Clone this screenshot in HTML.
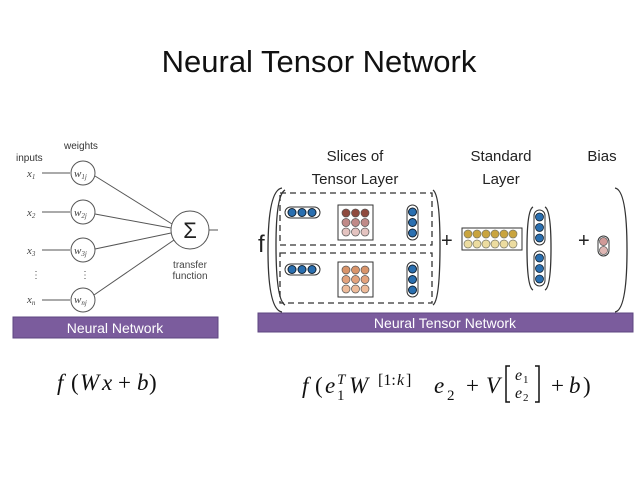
<!DOCTYPE html>
<html><head><style>
body{margin:0;background:#fff;width:638px;height:479px;overflow:hidden;font-family:"Liberation Sans",sans-serif}
</style></head><body>
<svg width="638" height="479" xmlns="http://www.w3.org/2000/svg" font-family="Liberation Sans, sans-serif">
<text x="319" y="72" font-size="31" text-anchor="middle" fill="#111">Neural Tensor Network</text>

<!-- left diagram -->
<text x="16" y="161" font-size="10" fill="#333">inputs</text>
<text x="64" y="149" font-size="10" fill="#333">weights</text>
<g font-family="Liberation Serif, serif" font-style="italic" font-size="11" fill="#444">
<text x="27" y="177">x<tspan font-size="7" dy="2">1</tspan></text>
<text x="27" y="216">x<tspan font-size="7" dy="2">2</tspan></text>
<text x="27" y="254">x<tspan font-size="7" dy="2">3</tspan></text>
<text x="27" y="303">x<tspan font-size="7" dy="2">n</tspan></text>
<text x="74" y="177">w<tspan font-size="7" dy="2">1j</tspan></text>
<text x="74" y="216">w<tspan font-size="7" dy="2">2j</tspan></text>
<text x="74" y="254">w<tspan font-size="7" dy="2">3j</tspan></text>
<text x="74" y="303">w<tspan font-size="7" dy="2">nj</tspan></text>
</g>
<g stroke="#555" fill="none" stroke-width="1">
<circle cx="83" cy="173" r="12"/><circle cx="83" cy="212" r="12"/><circle cx="83" cy="250" r="12"/><circle cx="83" cy="300" r="12"/>
<circle cx="190" cy="230" r="19"/>
<line x1="42" y1="173" x2="70" y2="173"/><line x1="42" y1="212" x2="70" y2="212"/><line x1="42" y1="250" x2="70" y2="250"/><line x1="42" y1="300" x2="70" y2="300"/>
<line x1="95" y1="176" x2="172" y2="224"/><line x1="95" y1="214" x2="171" y2="228"/><line x1="95" y1="249" x2="171" y2="233"/><line x1="94" y1="295" x2="174" y2="240"/>
<line x1="209" y1="230" x2="218" y2="230"/>
</g>
<g fill="#555" font-size="10"><text x="31" y="278">⋮</text><text x="80" y="278">⋮</text></g>
<text x="190" y="238" font-size="22" text-anchor="middle" fill="#222">Σ</text>
<text x="190" y="268" font-size="10" text-anchor="middle" fill="#444">transfer</text>
<text x="190" y="279" font-size="10" text-anchor="middle" fill="#444">function</text>
<rect x="13" y="317" width="205" height="21" fill="#7b5c9d" stroke="#5e4680"/>
<text x="115" y="333" font-size="14" text-anchor="middle" fill="#fff">Neural Network</text>

<!-- right diagram -->
<g font-size="15" fill="#222" text-anchor="middle">
<text x="355" y="161">Slices of</text><text x="355" y="184">Tensor Layer</text>
<text x="501" y="161">Standard</text><text x="501" y="184">Layer</text>
<text x="602" y="161">Bias</text>
</g>
<text x="258" y="252" font-size="24" fill="#222">f</text>
<g fill="none" stroke="#333" stroke-width="1.3">
<path d="M282 188 Q268 190 268 250 Q268 310 282 312"/>
<path d="M615 188 Q627 190 627 250 Q627 310 615 312"/>
<path d="M433 190 Q440 195 440 245 Q440 300 433 305"/>
<path d="M285 190 Q276 195 276 245 Q276 300 285 305"/>
<rect x="280" y="193" width="152" height="52" stroke-dasharray="6,4"/>
<rect x="280" y="253" width="152" height="50" stroke-dasharray="6,4"/>
<path d="M533 207 Q527 210 527 248 Q527 287 533 290"/>
<path d="M545 207 Q551 210 551 248 Q551 287 545 290"/>
</g>
<g font-size="20" fill="#222"><text x="441" y="247">+</text><text x="578" y="247">+</text></g>

<g id="slice">
<rect x="285" y="207" width="35" height="11" rx="5.5" fill="#fff" stroke="#333"/>
<circle cx="292" cy="212.5" r="4" fill="#2a6fb0" stroke="#123"/><circle cx="302" cy="212.5" r="4" fill="#2a6fb0" stroke="#123"/><circle cx="312" cy="212.5" r="4" fill="#2a6fb0" stroke="#123"/>
<rect x="407" y="205" width="11" height="35" rx="5.5" fill="#fff" stroke="#333"/>
<circle cx="412.5" cy="212" r="4" fill="#2a6fb0" stroke="#123"/><circle cx="412.5" cy="222.5" r="4" fill="#2a6fb0" stroke="#123"/><circle cx="412.5" cy="233" r="4" fill="#2a6fb0" stroke="#123"/>
<rect x="338" y="205" width="35" height="35" fill="#fff" stroke="#333"/>
</g>
<use href="#slice" transform="translate(0,57)"/>
<g stroke="#555" stroke-width="0.7">
<circle cx="346" cy="213" r="4" fill="#8e4a3e"/><circle cx="355.5" cy="213" r="4" fill="#8e4a3e"/><circle cx="365" cy="213" r="4" fill="#8e4a3e"/>
<circle cx="346" cy="222.5" r="4" fill="#c08a88"/><circle cx="355.5" cy="222.5" r="4" fill="#c08a88"/><circle cx="365" cy="222.5" r="4" fill="#c08a88"/>
<circle cx="346" cy="232" r="4" fill="#e4c3c0"/><circle cx="355.5" cy="232" r="4" fill="#e4c3c0"/><circle cx="365" cy="232" r="4" fill="#e4c3c0"/>
<circle cx="346" cy="270" r="4" fill="#d9946a"/><circle cx="355.5" cy="270" r="4" fill="#d9946a"/><circle cx="365" cy="270" r="4" fill="#d9946a"/>
<circle cx="346" cy="279.5" r="4" fill="#e3a27c"/><circle cx="355.5" cy="279.5" r="4" fill="#e3a27c"/><circle cx="365" cy="279.5" r="4" fill="#e3a27c"/>
<circle cx="346" cy="289" r="4" fill="#eebb9a"/><circle cx="355.5" cy="289" r="4" fill="#eebb9a"/><circle cx="365" cy="289" r="4" fill="#eebb9a"/>
</g>
<rect x="462" y="228" width="60" height="22" fill="#fff" stroke="#333"/>
<g stroke="#776" stroke-width="0.7">
<circle cx="468" cy="234" r="4" fill="#c9a43e"/><circle cx="477" cy="234" r="4" fill="#c9a43e"/><circle cx="486" cy="234" r="4" fill="#c9a43e"/><circle cx="495" cy="234" r="4" fill="#c9a43e"/><circle cx="504" cy="234" r="4" fill="#c9a43e"/><circle cx="513" cy="234" r="4" fill="#c9a43e"/>
<circle cx="468" cy="244" r="4" fill="#ecdca0"/><circle cx="477" cy="244" r="4" fill="#ecdca0"/><circle cx="486" cy="244" r="4" fill="#ecdca0"/><circle cx="495" cy="244" r="4" fill="#ecdca0"/><circle cx="504" cy="244" r="4" fill="#ecdca0"/><circle cx="513" cy="244" r="4" fill="#ecdca0"/>
</g>
<g stroke="#333">
<rect x="534" y="210" width="11" height="35" rx="5.5" fill="#fff"/>
<rect x="534" y="251" width="11" height="35" rx="5.5" fill="#fff"/>
<rect x="598" y="236" width="11" height="20" rx="5.5" fill="#fff"/>
</g>
<g fill="#2a6fb0" stroke="#123" stroke-width="0.8">
<circle cx="539.5" cy="217" r="4"/><circle cx="539.5" cy="227.5" r="4"/><circle cx="539.5" cy="238" r="4"/>
<circle cx="539.5" cy="258" r="4"/><circle cx="539.5" cy="268.5" r="4"/><circle cx="539.5" cy="279" r="4"/>
</g>
<circle cx="603.5" cy="241.5" r="4" fill="#d09a98" stroke="#555" stroke-width="0.7"/>
<circle cx="603.5" cy="250.5" r="4" fill="#e0b7b4" stroke="#555" stroke-width="0.7"/>
<rect x="258" y="313" width="375" height="19" fill="#7b5c9d" stroke="#5e4680"/>
<text x="445" y="328" font-size="14" text-anchor="middle" fill="#fff">Neural Tensor Network</text>

<!-- formulas -->
<g font-family="Liberation Serif, serif" font-size="23" fill="#111">
<text x="57" y="390" font-style="italic">f</text>
<text x="71" y="390">(</text>
<text x="80" y="390" font-style="italic">W</text>
<text x="102" y="390" font-style="italic">x</text>
<text x="118" y="390">+</text>
<text x="137" y="390" font-style="italic">b</text>
<text x="149" y="390">)</text>

<text x="302" y="393" font-style="italic">f</text>
<text x="315" y="393">(</text>
<text x="325" y="393" font-style="italic">e</text>
<text x="337" y="400" font-size="15">1</text>
<text x="337" y="384" font-size="15" font-style="italic">T</text>
<text x="349" y="393" font-style="italic">W</text>
<text x="378" y="385" font-size="16">[1:</text><text x="397" y="385" font-size="16" font-style="italic">k</text><text x="406" y="385" font-size="16">]</text>
<text x="434" y="393" font-style="italic">e</text>
<text x="447" y="400" font-size="15">2</text>
<text x="466" y="393">+</text>
<text x="486" y="393" font-style="italic">V</text>
<text x="515" y="380" font-size="16" font-style="italic">e</text><text x="523" y="383" font-size="11">1</text>
<text x="515" y="398" font-size="16" font-style="italic">e</text><text x="523" y="401" font-size="11">2</text>
<text x="551" y="393">+</text>
<text x="569" y="393" font-style="italic">b</text>
<text x="583" y="393">)</text>
</g>
<g fill="none" stroke="#111" stroke-width="1.5">
<path d="M510 366 L506 366 L506 402 L510 402"/>
<path d="M535 366 L539 366 L539 402 L535 402"/>
</g>
</svg>
</body></html>
